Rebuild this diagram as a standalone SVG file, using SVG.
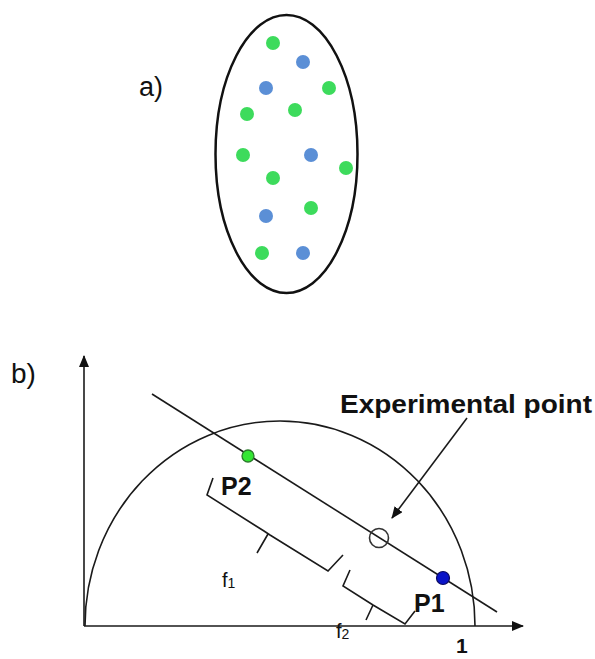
<svg xmlns="http://www.w3.org/2000/svg" width="595" height="659" viewBox="0 0 595 659">
<style>
.ln{fill:none;stroke:#1a1a1a;stroke-width:1.6;stroke-linejoin:miter}
.g{fill:#3ddb5c}
.b{fill:#5b8fd6}
.lbl{font-family:"Liberation Sans",Arial,sans-serif;fill:#111}
.bold{font-family:"Liberation Sans",Arial,sans-serif;font-weight:bold;fill:#111}
</style>
<defs>
<marker id="ah" markerWidth="12" markerHeight="10" refX="11" refY="5" orient="auto" markerUnits="userSpaceOnUse">
<path d="M0,0 L12,5 L0,10 Z" fill="#111"/>
</marker>
</defs>
<rect width="595" height="659" fill="#fff"/>

<g id="panel-a">
<text class="lbl" x="139" y="96" font-size="27">a)</text>
<ellipse cx="286.5" cy="154" rx="71" ry="139" fill="none" stroke="#111" stroke-width="2.5"/>
<g id="dots">
<circle class="g" cx="273" cy="43" r="7"/>
<circle class="b" cx="303" cy="62" r="7"/>
<circle class="b" cx="266" cy="88" r="7"/>
<circle class="g" cx="329" cy="88" r="7"/>
<circle class="g" cx="247" cy="114" r="7"/>
<circle class="g" cx="295" cy="110" r="7"/>
<circle class="g" cx="243" cy="155" r="7"/>
<circle class="b" cx="311" cy="155" r="7"/>
<circle class="g" cx="346" cy="168" r="7"/>
<circle class="g" cx="273" cy="178" r="7"/>
<circle class="g" cx="311" cy="208" r="7"/>
<circle class="b" cx="266" cy="216" r="7"/>
<circle class="g" cx="262" cy="253" r="7"/>
<circle class="b" cx="303" cy="253" r="7"/>
</g>
</g>

<g id="panel-b">
<text class="lbl" x="11" y="383" font-size="28">b)</text>
<g id="axes">
<line class="ln" x1="84" y1="626" x2="84" y2="356" marker-end="url(#ah)"/>
<line class="ln" x1="84" y1="626" x2="523" y2="626" marker-end="url(#ah)"/>
</g>
<path id="arc" class="ln" d="M85,626 A195,205 0 0 1 475,626"/>
<g id="connectors">
<line class="ln" x1="152" y1="394" x2="497" y2="612"/>
<line class="ln" x1="467" y1="418" x2="392" y2="518" marker-end="url(#ah)"/>
<path class="ln" d="M213,478 L207,495 L264,531 L270,535 L328,571 L343,555 M268,534 L257,553"/>
<path class="ln" d="M350,570 L343,586 L373,605 L405,624 L415,611 M373,605 L366,620"/>
</g>
<g id="P2">
<circle cx="248" cy="456" r="6" fill="#33e633" stroke="#2a7a2a" stroke-width="1.3"/>
<text class="bold" x="221" y="495" font-size="25">P2</text>
</g>
<g id="exp-point">
<circle cx="379" cy="538" r="9.5" fill="none" stroke="#333" stroke-width="1.6"/>
<text class="bold" x="340" y="413" font-size="25" textLength="252" lengthAdjust="spacingAndGlyphs">Experimental point</text>
</g>
<g id="P1">
<circle cx="443" cy="578" r="6.5" fill="#0a14c8" stroke="#0a0a60" stroke-width="1.2"/>
<text class="bold" x="414" y="612" font-size="25">P1</text>
</g>
<text class="lbl" x="222" y="587" font-size="20">f<tspan font-size="14" dy="1">1</tspan></text>
<text class="lbl" x="336" y="638" font-size="20">f<tspan font-size="14" dy="1">2</tspan></text>
<text class="bold" x="456" y="653" font-size="21">1</text>
</g>
</svg>
